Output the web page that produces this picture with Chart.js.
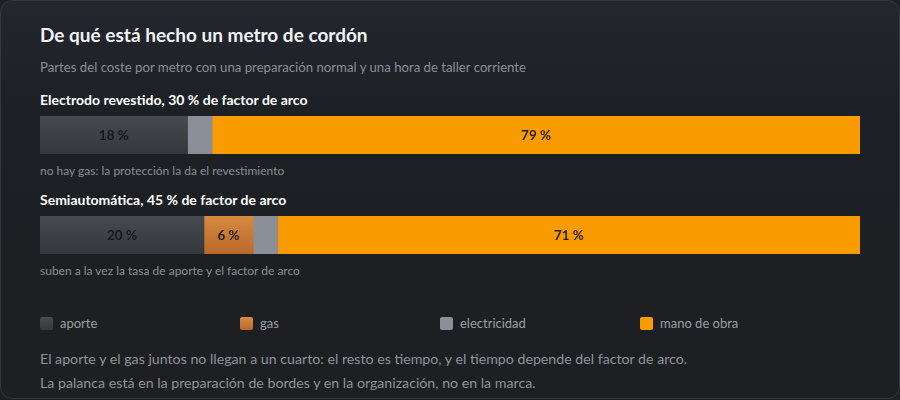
<!DOCTYPE html>
<html lang="es">
<head>
<meta charset="utf-8">
<script src="https://cdn.jsdelivr.net/npm/chart.js@4.4.1/dist/chart.umd.min.js"></script>
<style>
  html, body { margin:0; padding:0; background:#1d1f22; }
  body { width:900px; height:400px; overflow:hidden; font-family:"Lato","Noto Sans",sans-serif; }
  .card { position:absolute; left:0; top:0; width:900px; height:399px; box-sizing:border-box;
          border:1px solid #34373c; border-radius:12px;
          background:linear-gradient(180deg,#23272e 0px,#1d2024 110px,#1d1f22 100%); }
  .abs { position:absolute; left:39px; white-space:nowrap; }
  .title { top:21px; line-height:26px; font-size:19px; font-weight:700; color:#f3f4f6; }
  .sub { top:57px; line-height:18px; font-size:13.2px; color:#8a8f96; }
  .head { line-height:18px; font-size:14px; font-weight:700; color:#ffffff; }
  .note { line-height:16px; font-size:12px; color:#8a8f96; }
  .bar { position:absolute; left:39px; width:820px; height:38px; }
  .legend { position:absolute; left:39px; top:313px; width:820px; height:18px; }
  .item { position:absolute; top:0; height:18px; line-height:18px; font-size:13px; color:#9a9ea5; }
  .sw { position:absolute; left:0; top:2.5px; width:13px; height:13px; border-radius:2px; }
  .item span.t { position:absolute; left:20px; top:0; white-space:nowrap; }
  .foot { line-height:20px; font-size:14.2px; color:#8f949b; }
</style>
</head>
<body>
<div class="card" id="card"></div>
<script>
// ---- data ----
const seriesNames = ['aporte', 'gas', 'electricidad', 'mano de obra'];
const processTitles = ['Electrodo revestido, 30 % de factor de arco', 'Semiautomática, 45 % de factor de arco'];
const processNotes = ['no hay gas: la protección la da el revestimiento', 'suben a la vez la tasa de aporte y el factor de arco'];
const aporte = [18, 20];
const gas = [0, 6];
const electricidad = [3, 3];
const manoDeObra = [79, 71];
const chartTitle = 'De qué está hecho un metro de cordón';
const chartSubtitle = 'Partes del coste por metro con una preparación normal y una hora de taller corriente';
const footLines = [
  'El aporte y el gas juntos no llegan a un cuarto: el resto es tiempo, y el tiempo depende del factor de arco.',
  'La palanca está en la preparación de bordes y en la organización, no en la marca.'
];
const seriesValues = [aporte, gas, electricidad, manoDeObra];

// ---- styles ----
const swatchCss = [
  'linear-gradient(180deg,#484b51,#34373b)',
  'linear-gradient(180deg,#d78b3f,#b9682c)',
  '#8a8f98',
  '#fa9b00'
];
const gradStops = [
  ['#474a50', '#34373b'],
  ['#d68a3e', '#b9682c'],
  null,
  null
];
const flatColors = ['#3d4045', '#c8782f', '#8a8f98', '#fa9b00'];

function fillFor(idx) {
  return (c) => {
    const chart = c.chart;
    const a = chart.chartArea;
    if (!gradStops[idx] || !a) return flatColors[idx];
    const g = chart.ctx.createLinearGradient(0, a.top, 0, a.bottom);
    g.addColorStop(0, gradStops[idx][0]);
    g.addColorStop(1, gradStops[idx][1]);
    return g;
  };
}

const card = document.getElementById('card');
function addText(cls, text, top) {
  const d = document.createElement('div');
  d.className = 'abs ' + cls;
  d.textContent = text;
  if (top !== undefined) d.style.top = top + 'px';
  card.appendChild(d);
  return d;
}
addText('title', chartTitle);
addText('sub', chartSubtitle);

const segLabels = {
  id: 'segLabels',
  afterDatasetsDraw(chart) {
    const ctx = chart.ctx;
    chart.data.datasets.forEach((ds, i) => {
      const meta = chart.getDatasetMeta(i);
      meta.data.forEach((bar, j) => {
        const v = ds.data[j];
        if (!v || v < 5) return;
        const p = bar.getProps(['x', 'y', 'base'], true);
        ctx.save();
        ctx.font = 'bold 13.5px Lato, "Noto Sans", sans-serif';
        ctx.fillStyle = 'rgba(22,22,24,0.92)';
        ctx.textAlign = 'center';
        ctx.textBaseline = 'middle';
        ctx.fillText(v + ' %', (p.x + p.base) / 2, p.y + 1);
        ctx.restore();
      });
    });
  }
};

const rowTops = [115, 215];
processTitles.forEach((t, r) => {
  addText('head', t, rowTops[r] - 25);
  addText('note', processNotes[r], rowTops[r] + 47);
  const wrap = document.createElement('div');
  wrap.className = 'bar';
  wrap.style.top = rowTops[r] + 'px';
  const cv = document.createElement('canvas');
  wrap.appendChild(cv);
  card.appendChild(wrap);
  new Chart(cv, {
    type: 'bar',
    data: {
      labels: [t],
      datasets: seriesNames.map((n, k) => ({
        label: n,
        data: [seriesValues[k][r]],
        backgroundColor: fillFor(k),
        borderWidth: 0,
        barPercentage: 1,
        categoryPercentage: 1
      }))
    },
    options: {
      indexAxis: 'y',
      responsive: true,
      maintainAspectRatio: false,
      animation: false,
      layout: { padding: 0 },
      plugins: { legend: { display: false }, tooltip: { enabled: false }, title: { display: false } },
      scales: {
        x: { stacked: true, min: 0, max: 100, display: false },
        y: { stacked: true, display: false }
      }
    },
    plugins: [segLabels]
  });
});

// legend
const lg = document.createElement('div');
lg.className = 'legend';
seriesNames.forEach((n, k) => {
  const it = document.createElement('div');
  it.className = 'item';
  it.style.left = (k * 200) + 'px';
  const sw = document.createElement('div');
  sw.className = 'sw';
  sw.style.background = swatchCss[k];
  const tx = document.createElement('span');
  tx.className = 't';
  tx.textContent = n;
  it.appendChild(sw); it.appendChild(tx);
  lg.appendChild(it);
});
card.appendChild(lg);

footLines.forEach((l, i) => addText('foot', l, 348 + i * 24));
</script>
</body>
</html>
